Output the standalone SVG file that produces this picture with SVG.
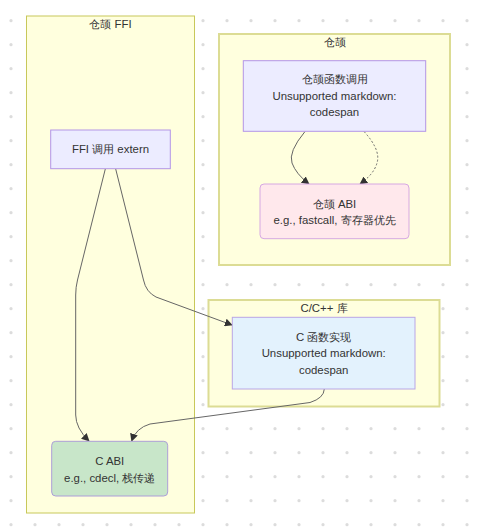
<svg xmlns="http://www.w3.org/2000/svg" width="479" height="527" viewBox="0 0 479 527">
<style>
text{font-family:"Liberation Sans",Arial,sans-serif;font-size:11.4px;fill:#333;text-anchor:middle;dominant-baseline:central}
.cl{fill:#ffffde;stroke:#c8c85a;stroke-width:1}
.cl2{fill:#ffffde;stroke:#dcdc94;stroke-width:2}
.e{fill:none;stroke:#666;stroke-width:1}
.d{stroke-dasharray:2 2}
</style>
<defs>
<pattern id="g" patternUnits="userSpaceOnUse" width="24" height="24">
<circle cx="11" cy="20.7" r="1.6" fill="#dcdcdc"/>
</pattern>
<marker id="a" viewBox="0 0 10 10" refX="9" refY="5" markerWidth="8" markerHeight="8" orient="auto" markerUnits="userSpaceOnUse">
<path d="M0,0 L10,5 L0,10 z" fill="#333"/>
</marker>
</defs>
<rect width="479" height="527" fill="#fff"/>
<rect width="479" height="527" fill="url(#g)"/>
<g id="cluster-ffi">
<rect class="cl" x="26.5" y="16" width="168" height="497"/>
<text x="110.5" y="24">仓颉 FFI</text>
</g>
<g id="cluster-cangjie">
<rect class="cl2" x="219" y="34" width="231" height="231"/>
<text x="335" y="42.3">仓颉</text>
</g>
<g id="cluster-c">
<rect class="cl2" x="208.5" y="300" width="231" height="106.5"/>
<text x="324" y="308.3">C/C++ 库</text>
</g>
<g id="connectors">
<path class="e" d="M105.3,169 L77.5,280 Q75.7,287 75.7,295 L75.7,415 Q75.7,428 89,441" marker-end="url(#a)"/>
<path class="e" d="M115.7,169 L143.5,280 Q146,292 156,297 L232,325" marker-end="url(#a)"/>
<path class="e" d="M324.3,389 Q324,398 310,402.5 L150,424 Q136,428 131.7,441" marker-end="url(#a)"/>
<path class="e" d="M305,131.5 Q288,152 292,163 Q296,174 309,184" marker-end="url(#a)"/>
<path class="e d" d="M364,131.5 Q381,150 377,163 Q374,174 360,184" marker-end="url(#a)"/>
</g>
<g id="node-ffi">
<rect x="50.7" y="130" width="119.6" height="38.7" fill="#ececff" stroke="#b395e6" stroke-width="1"/>
<text x="110.5" y="149">FFI 调用 extern</text>
</g>
<g id="node-cjcall">
<rect x="243.3" y="60.7" width="182.4" height="70.6" fill="#ececff" stroke="#b395e6" stroke-width="1"/>
<text x="334.5" y="79.3">仓颉函数调用</text>
<text x="334.5" y="95.7">Unsupported markdown:</text>
<text x="334.5" y="112">codespan</text>
</g>
<g id="node-cjabi">
<rect x="260" y="184" width="149" height="54.7" rx="4" fill="#ffe8ec" stroke="#d6a8e2" stroke-width="1"/>
<text x="334.5" y="204">仓颉 ABI</text>
<text x="334.5" y="219.7">e.g., fastcall, 寄存器优先</text>
</g>
<g id="node-cfunc">
<rect x="232.3" y="317.3" width="182.7" height="71.7" fill="#e3f2fd" stroke="#b9a6e6" stroke-width="1"/>
<text x="323.7" y="336.7">C 函数实现</text>
<text x="323.7" y="353.3">Unsupported markdown:</text>
<text x="323.7" y="370">codespan</text>
</g>
<g id="node-cabi">
<rect x="51.7" y="441.3" width="116" height="54.7" rx="4" fill="#c8e6c9" stroke="#ad9ed8" stroke-width="1"/>
<text x="109.7" y="460.7">C ABI</text>
<text x="109.7" y="477.7">e.g., cdecl, 栈传递</text>
</g>
</svg>
